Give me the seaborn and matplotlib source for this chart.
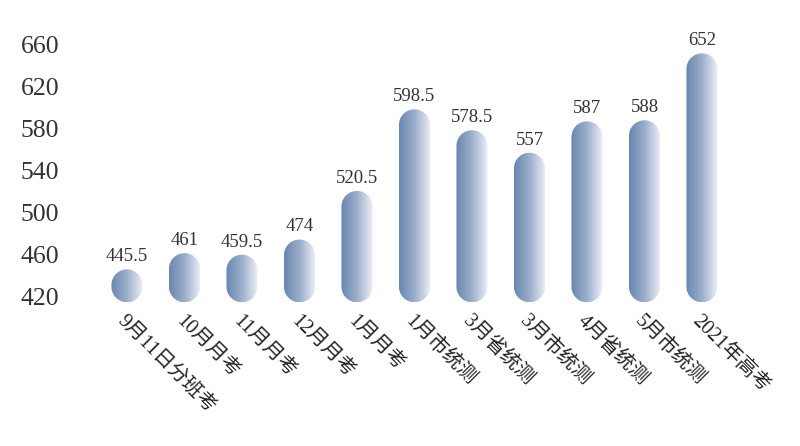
import numpy as np
import pandas as pd
import seaborn as sns
import matplotlib
matplotlib.use("Agg")
import matplotlib.pyplot as plt
from matplotlib.patches import Polygon
from matplotlib.colors import LinearSegmentedColormap

# 数据
exams = ["9月11日分班考", "10月月考", "11月月考", "12月月考", "1月月考", "1月市统测",
         "3月省统测", "3月市统测", "4月省统测", "5月市统测", "2021年高考"]
scores = [445.5, 461, 459.5, 474, 520.5, 598.5, 578.5, 557, 587, 588, 652]
score_labels = ["445.5", "461", "459.5", "474", "520.5", "598.5", "578.5", "557", "587", "588", "652"]
yticks = [420, 460, 500, 540, 580, 620, 660]

sns.set_theme(style="white")
plt.rcParams['font.family'] = ['Liberation Serif', 'Noto Sans CJK SC', 'DejaVu Sans']

df = pd.DataFrame({"exam": exams, "score": scores})

fig = plt.figure(figsize=(8, 4.46), dpi=100)
ax = fig.add_axes([0.1228, 0.3128, 0.7906, 0.6098])

sns.barplot(data=df, x="exam", y="score", ax=ax, width=0.54, color="#7890b4")

base = 414.0
ylo, yhi = 410, 670
ax.set_ylim(ylo, yhi)
ax.set_xlim(-0.5, len(exams) - 0.5)

# 渐变色：深蓝灰 -> 近白
cmap = LinearSegmentedColormap.from_list("pill", ["#6986b0", "#9cafcb", "#eef0f8"])
grad = np.linspace(0, 1, 256).reshape(1, -1)

# 像素比例，用于圆角
bbox = ax.get_window_extent()
x_per_px = len(exams) / bbox.width
y_per_px = (yhi - ylo) / bbox.height
aspect = y_per_px / x_per_px

t_top = np.linspace(0, np.pi, 40)
t_bot = np.linspace(np.pi, 2 * np.pi, 40)

for p, val, lab in zip(ax.patches, scores, score_labels):
    x0 = p.get_x()
    w = p.get_width()
    p.set_visible(False)
    rx = w / 2
    ry = rx * aspect
    xc = x0 + rx
    top = np.column_stack([xc + rx * np.cos(t_top), val - ry + ry * np.sin(t_top)])
    bot = np.column_stack([xc + rx * np.cos(t_bot), base + ry + ry * np.sin(t_bot)])
    pill = Polygon(np.vstack([top, bot]), closed=True,
                   facecolor="none", edgecolor="none", transform=ax.transData)
    ax.add_patch(pill)
    im = ax.imshow(grad, extent=[x0, x0 + w, base, val], aspect="auto",
                   cmap=cmap, zorder=2)
    im.set_clip_path(pill)
    ax.text(xc, val + 4, lab, ha="center", va="bottom",
            fontsize=13.5, color="#333333")

ax.set_xlim(-0.5, len(exams) - 0.5)
ax.set_ylim(ylo, yhi)

ax.set_yticks(yticks)
ax.set_yticklabels([str(t) for t in yticks], fontsize=18.5, color="#333333")
ax.tick_params(axis="y", length=0, pad=28)

ax.set_xticks(range(len(exams)))
ax.set_xticklabels(exams, rotation=-45, ha="left", rotation_mode="anchor",
                   fontsize=14.5, color="#222222")
ax.tick_params(axis="x", length=0, pad=4)

ax.set_xlabel("")
ax.set_ylabel("")
sns.despine(ax=ax, left=True, bottom=True)

fig.savefig("out.png", dpi=100)
